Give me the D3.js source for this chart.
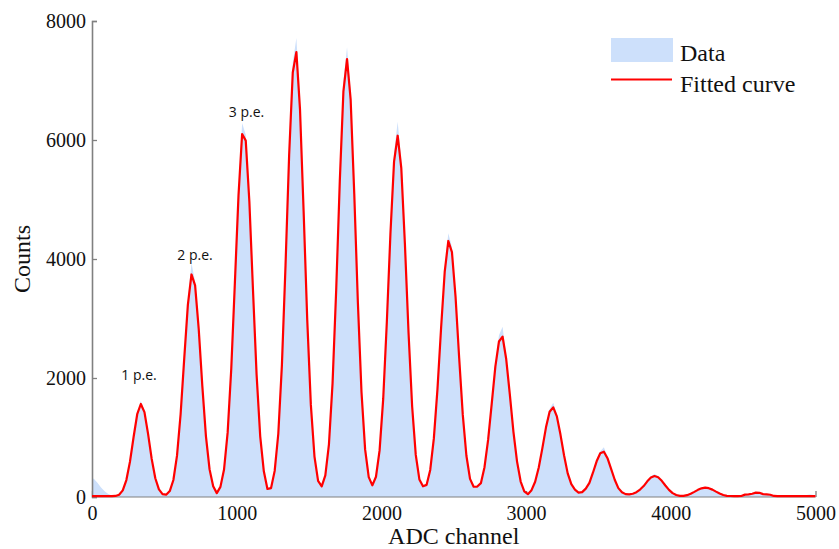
<!DOCTYPE html>
<html>
<head>
<meta charset="utf-8">
<script src="https://cdn.jsdelivr.net/npm/d3@7"></script>
<style>
  html, body { margin: 0; padding: 0; background: #ffffff; }
  svg { display: block; }
</style>
</head>
<body>
<svg id="chart" width="839" height="549"></svg>
<script>
// ---- Data ----
const binWidth = 25;            // ADC channels per histogram bin
const xTicks = [0, 1000, 2000, 3000, 4000, 5000];
const yTicks = [0, 2000, 4000, 6000, 8000];
const seriesNames = ["Data", "Fitted curve"];

// Measured spectrum (counts per 25-channel bin, starting at channel 0)
const dataCounts = [
  305, 240, 160, 95, 50, 25, 22, 45, 120, 300,
  610, 1030, 1420, 1613, 1450, 1075, 650, 325, 135, 60,
  50, 110, 300, 710, 1420, 2370, 3300, 3933, 3620, 2870,
  1895, 1040, 480, 200, 90, 185, 480, 1110, 2200, 3680,
  5170, 6286, 6090, 5050, 3550, 2100, 1050, 450, 160, 170,
  460, 1090, 2270, 3980, 5870, 7300, 7714, 6650, 4900, 3040,
  1580, 700, 290, 200, 380, 910, 1950, 3550, 5420, 6980,
  7557, 6810, 5200, 3330, 1800, 820, 350, 215, 355, 800,
  1690, 3000, 4520, 5780, 6308, 5650, 4340, 2820, 1550, 725,
  310, 195, 220, 470, 1005, 1850, 2900, 3860, 4431, 4200,
  3430, 2380, 1410, 710, 320, 185, 190, 245, 515, 985,
  1610, 2250, 2720, 2862, 2380, 1770, 1120, 610, 272, 105,
  58, 122, 265, 510, 845, 1205, 1480, 1585, 1400, 1075,
  715, 410, 225, 132, 82, 88, 148, 248, 425, 625,
  770, 835, 680, 490, 300, 155, 85, 52, 50, 60,
  85, 130, 192, 275, 345, 386, 350, 285, 200, 125,
  70, 36, 22, 22, 34, 58, 90, 125, 155, 172,
  158, 130, 94, 60, 35, 22, 18, 17, 18, 20,
  42, 48, 58, 80, 75, 52, 48, 40, 20, 17,
  17, 17, 17, 17, 17, 17, 25, 35, 40, 35
];

// Fitted multi-photoelectron curve, same bins
const fitCounts = [
  15, 15, 15, 15, 15, 15, 18, 38, 111, 285,
  594, 1008, 1391, 1563, 1427, 1060, 640, 315, 127, 48,
  39, 100, 286, 694, 1395, 2330, 3229, 3740, 3557, 2826,
  1864, 1020, 464, 180, 65, 170, 462, 1086, 2160, 3606,
  5070, 6100, 5990, 4966, 3484, 2056, 1020, 432, 135, 150,
  439, 1063, 2221, 3897, 5751, 7135, 7479, 6514, 4802, 2977,
  1548, 680, 270, 180, 364, 886, 1913, 3475, 5309, 6818,
  7361, 6677, 5093, 3266, 1760, 800, 334, 196, 340, 783,
  1648, 2938, 4428, 5638, 6072, 5526, 4252, 2766, 1521, 707,
  295, 180, 204, 454, 984, 1814, 2841, 3782, 4303, 4116,
  3364, 2337, 1380, 693, 304, 172, 176, 233, 501, 960,
  1569, 2191, 2613, 2694, 2319, 1725, 1096, 595, 260, 95,
  48, 115, 256, 495, 821, 1171, 1432, 1507, 1355, 1049,
  697, 397, 215, 125, 75, 82, 140, 238, 412, 600,
  734, 762, 652, 474, 290, 149, 80, 48, 45, 55,
  80, 125, 184, 263, 326, 353, 332, 272, 193, 120,
  65, 33, 20, 20, 31, 55, 86, 120, 146, 157,
  148, 124, 90, 58, 33, 20, 17, 16, 16, 17,
  40, 45, 55, 73, 70, 48, 45, 38, 18, 16,
  16, 16, 16, 16, 16, 16, 16, 16, 16, 16
];

// Peak annotations (label anchor in data units)
const peakLabels = ["1 p.e.", "2 p.e.", "3 p.e."];
const peakLabelX = [325, 712, 1068];
const peakLabelY = [1966, 3983, 6387];

// ---- Layout ----
const svg = d3.select("#chart");
const margin = { left: 92, right: 839 - 815.5, top: 21, bottom: 549 - 497 };
const W = 839, H = 549;

const x = d3.scaleLinear().domain([0, 5000]).range([margin.left, W - margin.right]);
const y = d3.scaleLinear().domain([0, 8000]).range([H - margin.bottom, margin.top]);

const axisGray = "#808080";
const fillBlue = "#cde0fb";
const red = "#ff0000";

// points at bin centres, closed at the range ends
function binPoints(arr) {
  const pts = arr.map((v, i) => [(i + 0.5) * binWidth, v]);
  pts.unshift([0, arr[0]]);
  pts.push([arr.length * binWidth, arr[arr.length - 1]]);
  return pts;
}
const dataPts = binPoints(dataCounts);
const fitPts = binPoints(fitCounts);

// x axis ticks (drawn under the fill)
const xAxis = d3.axisBottom(x).tickValues(xTicks).tickSize(-6).tickPadding(9)
  .tickFormat(d3.format("d"));
const gX = svg.append("g")
  .attr("transform", `translate(0,${y(0)})`)
  .call(xAxis);
gX.select(".domain").remove();
gX.selectAll(".tick line").attr("stroke", axisGray).attr("stroke-width", 1.3);
gX.selectAll(".tick text")
  .attr("font-family", "'Liberation Serif', 'Times New Roman', serif")
  .attr("font-size", 20).attr("fill", "#111");

// Data histogram fill
const area = d3.area()
  .x(d => x(d[0]))
  .y0(y(0))
  .y1(d => y(d[1]))
  .curve(d3.curveLinear);
svg.append("path")
  .datum(dataPts)
  .attr("d", area)
  .attr("fill", fillBlue)
  .attr("stroke", "none");

// y axis
const yAxis = d3.axisLeft(y).tickValues(yTicks).tickSize(-5).tickPadding(6)
  .tickFormat(d3.format("d"));
const gY = svg.append("g")
  .attr("transform", `translate(${x(0)},0)`)
  .call(yAxis);
gY.select(".domain").attr("stroke", axisGray).attr("stroke-width", 1.6);
gY.selectAll(".tick line").attr("stroke", axisGray).attr("stroke-width", 1.3);
gY.selectAll(".tick text")
  .attr("font-family", "'Liberation Serif', 'Times New Roman', serif")
  .attr("font-size", 20).attr("fill", "#111");

// x axis baseline
svg.append("line")
  .attr("x1", x(0)).attr("x2", x(5000))
  .attr("y1", y(0)).attr("y2", y(0))
  .attr("stroke", axisGray).attr("stroke-width", 1.2);

// Fitted curve
const line = d3.line()
  .x(d => x(d[0]))
  .y(d => y(d[1]))
  .curve(d3.curveLinear);
svg.append("path")
  .datum(fitPts)
  .attr("d", line)
  .attr("fill", "none")
  .attr("stroke", red)
  .attr("stroke-width", 2.2)
  .attr("stroke-linejoin", "round");

// Peak annotations
svg.append("g").selectAll("text")
  .data(peakLabels)
  .join("text")
  .attr("x", (d, i) => x(peakLabelX[i]))
  .attr("y", (d, i) => y(peakLabelY[i]))
  .attr("text-anchor", "middle")
  .attr("font-family", "'Open Sans', 'Noto Sans', sans-serif")
  .attr("font-size", 14)
  .attr("fill", "#111")
  .text(d => d);

// Axis titles
svg.append("text")
  .attr("x", (x(0) + x(5000)) / 2)
  .attr("y", 544)
  .attr("text-anchor", "middle")
  .attr("font-family", "'Liberation Serif', 'Times New Roman', serif")
  .attr("font-size", 24)
  .attr("fill", "#111")
  .text("ADC channel");

svg.append("text")
  .attr("transform", `translate(30,${(y(0) + y(8000)) / 2}) rotate(-90)`)
  .attr("text-anchor", "middle")
  .attr("font-family", "'Liberation Serif', 'Times New Roman', serif")
  .attr("font-size", 24)
  .attr("fill", "#111")
  .text("Counts");

// Legend
const lg = svg.append("g").attr("transform", "translate(611,38)");
lg.append("rect").attr("x", 0).attr("y", 0).attr("width", 62).attr("height", 24)
  .attr("fill", fillBlue);
lg.append("line").attr("x1", 0).attr("x2", 61).attr("y1", 41.5).attr("y2", 41.5)
  .attr("stroke", red).attr("stroke-width", 2.2);
lg.selectAll("text.lbl")
  .data(seriesNames)
  .join("text")
  .attr("class", "lbl")
  .attr("x", 69)
  .attr("y", (d, i) => 22.5 + i * 31)
  .attr("font-family", "'Liberation Serif', 'Times New Roman', serif")
  .attr("font-size", 24)
  .attr("fill", "#111")
  .text(d => d);
</script>
</body>
</html>
